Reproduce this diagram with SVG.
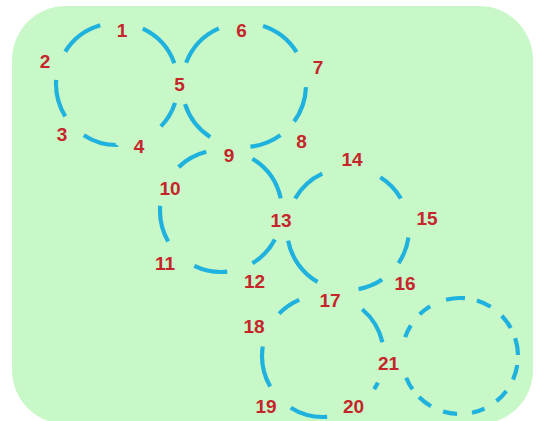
<svg xmlns="http://www.w3.org/2000/svg" width="539" height="421" viewBox="0 0 539 421">
<style>
.ring{fill:none;stroke:#1fb2de;stroke-width:4.2;stroke-linecap:butt}
.lbl{font-family:"Liberation Sans",Arial,sans-serif;font-weight:bold;font-size:19px;fill:#c4262a;text-anchor:middle}
</style>
<rect x="0" y="0" width="539" height="421" fill="#ffffff"/>
<rect x="12" y="6" width="521" height="418" rx="54" ry="54" fill="#c9f8c8"/>
<g id="connectors">
<circle id="c1" class="ring" cx="117" cy="84" r="61" pathLength="360" stroke-dasharray="26 46 33 25 36 28 42 41 45 38" stroke-dashoffset="-18"/>
<circle id="c2" class="ring" cx="244" cy="85" r="62" pathLength="360" stroke-dasharray="34 18 30 39 39 39 45 42 40 34" stroke-dashoffset="-2"/>
<circle id="c3" class="ring" cx="221" cy="211" r="61" pathLength="360" stroke-dasharray="31 25 32 34 35 41 30 45 47 40" stroke-dashoffset="-28"/>
<circle id="c4" class="ring" cx="348" cy="229" r="61" pathLength="360" stroke-dasharray="26 22 24 40 49 41 35 57 28 38" stroke-dashoffset="-8"/>
<circle id="c5" class="ring" cx="323" cy="356" r="61" pathLength="360" stroke-dasharray="7 53 36 28 39 35 23 63 37 39" stroke-dashoffset="-26"/>
<circle id="c6" class="ring" cx="460" cy="356" r="58" pathLength="360" stroke-dasharray="15 13 14 14 13 15 14 13 15 10 13 41 13 14 13 17 19 12 15 14 15 11 17 10" stroke-dashoffset="-9"/>
</g>
<g id="n1"><text class="lbl" x="122" y="37">1</text></g>
<g id="n2"><text class="lbl" x="45" y="68">2</text></g>
<g id="n3"><text class="lbl" x="62" y="141">3</text></g>
<g id="n4"><text class="lbl" x="139" y="153">4</text></g>
<g id="n5"><text class="lbl" x="179.5" y="91">5</text></g>
<g id="n6"><text class="lbl" x="241.5" y="37">6</text></g>
<g id="n7"><text class="lbl" x="318" y="74">7</text></g>
<g id="n8"><text class="lbl" x="301.5" y="148">8</text></g>
<g id="n9"><text class="lbl" x="229" y="162">9</text></g>
<g id="n10"><text class="lbl" x="170" y="195">10</text></g>
<g id="n11"><text class="lbl" x="165" y="270">11</text></g>
<g id="n12"><text class="lbl" x="254.5" y="288">12</text></g>
<g id="n13"><text class="lbl" x="281" y="227">13</text></g>
<g id="n14"><text class="lbl" x="352" y="166">14</text></g>
<g id="n15"><text class="lbl" x="427" y="225">15</text></g>
<g id="n16"><text class="lbl" x="405" y="290">16</text></g>
<g id="n17"><text class="lbl" x="330" y="307">17</text></g>
<g id="n18"><text class="lbl" x="254" y="333">18</text></g>
<g id="n19"><text class="lbl" x="266" y="413">19</text></g>
<g id="n20"><text class="lbl" x="353.5" y="413">20</text></g>
<g id="n21"><text class="lbl" x="388.5" y="370">21</text></g>
</svg>
